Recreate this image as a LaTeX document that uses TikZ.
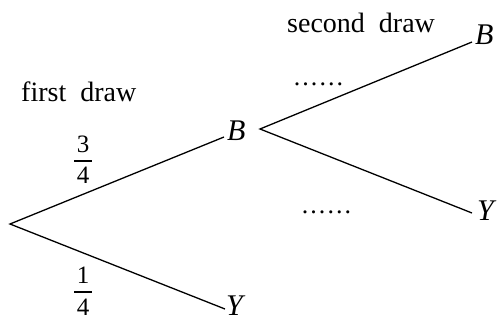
\documentclass[tikz,border=0pt]{standalone}
\usepackage{fontspec}
\setmainfont{Liberation Serif}
\newcommand\sixdots{.\kern2.1pt.\kern2.1pt.\kern2.1pt.\kern2.1pt.\kern2.1pt.}
\newcommand\fracbox[2]{\vbox{\halign{##\cr\hbox to 18pt{\hfil #1\hfil}\cr
  \noalign{\vskip 7.5pt\hrule height 1.5pt\vskip 6pt}
  \hbox to 18pt{\hfil #2\hfil}\cr}}}
\begin{document}
\begin{tikzpicture}[x=1pt,y=-1pt,
  lbl/.style={inner sep=0pt, font=\fontsize{28}{32}\selectfont},
  var/.style={inner sep=0pt, font=\fontsize{30}{34}\selectfont\itshape},
  fr/.style={inner sep=0pt, font=\fontsize{25}{30}\selectfont},
  dts/.style={inner sep=0pt, font=\fontsize{26}{30}\selectfont},
  br/.style={line width=1.3pt}]
\useasboundingbox (0,0) rectangle (497,320);
% branch points
\coordinate (r) at (10,224);
\coordinate (e1) at (224,137);
\coordinate (e2) at (225,309);
\coordinate (v) at (260,129);
\coordinate (e3) at (472,42);
\coordinate (e4) at (472,213);
% labels
\node[lbl, anchor=base west] (first) at (21,102) {first\ \ draw};
\node[lbl, anchor=base west] (second) at (287,33) {second\ \ draw};
\node[var, anchor=base west] (B1) at (227,141) {B};
\node[var, anchor=base west] (Y1) at (226,315) {Y};
\node[var, anchor=base west] (B2) at (475,45) {B};
\node[var, anchor=base west] (Y2) at (477,220) {Y};
\node[fr, anchor=base] (f1) at (83,184) {\fracbox{3}{4}};
\node[fr, anchor=base] (f2) at (83,315) {\fracbox{1}{4}};
\node[dts, anchor=base] (d1) at (318.5,86) {\sixdots};
\node[dts, anchor=base] (d2) at (326.5,213) {\sixdots};
% branches
\draw[br] (e1) -- (r) -- (e2);
\draw[br] (e3) -- (v) -- (e4);
\end{tikzpicture}
\end{document}
